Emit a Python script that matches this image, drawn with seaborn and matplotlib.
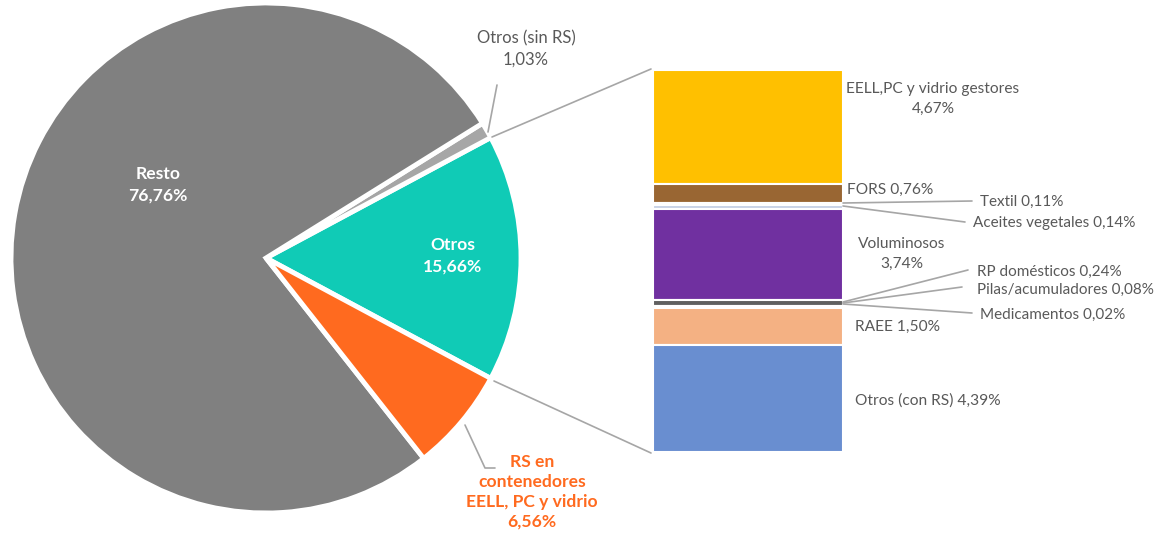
import matplotlib
matplotlib.use("Agg")
import matplotlib.pyplot as plt
import seaborn as sns
import numpy as np

sns.set_theme(style="white")
plt.rcParams['font.family'] = ['Lato', 'DejaVu Sans']

# ---- data ----
pie_labels = ["Otros", "Otros (sin RS)", "Resto", "RS en\ncontenedores\nEELL, PC y vidrio"]
pie_values = [15.66, 1.03, 76.76, 6.56]
pie_colors = ["#10CBB6", "#A6A6A6", "#808080", "#FF6A1F"]

bar_labels = ["EELL,PC y vidrio gestores", "FORS", "Textil", "Aceites vegetales",
              "Voluminosos", "RP domésticos", "Pilas/acumuladores", "Medicamentos",
              "RAEE", "Otros (con RS)"]
bar_values = [4.67, 0.76, 0.11, 0.14, 3.74, 0.24, 0.08, 0.02, 1.50, 4.39]
bar_colors = ["#FFC000", "#996633", "#A9BCDC", "#C8D3E6", "#7030A0",
              "#606060", "#7A7A7A", "#404040", "#F4B183", "#698ED0"]

W, H = 1159, 537
fig = plt.figure(figsize=(W / 100, H / 100), dpi=100)
fig.patch.set_facecolor("white")

def fr(x0, y0, x1, y1):
    # pixel box (top-left origin) -> figure fraction rect
    return [x0 / W, 1 - y1 / H, (x1 - x0) / W, (y1 - y0) / H]

# ---- pie ----
cx, cy, r = 266, 258, 255
axp = fig.add_axes(fr(cx - r, cy - r, cx + r, cy + r))
start = -pie_values[0] / sum(pie_values) * 360 / 2
axp.pie(pie_values, colors=pie_colors, startangle=start, counterclock=True,
        radius=1, wedgeprops=dict(edgecolor="white", linewidth=3.5))
axp.set_xlim(-1, 1)
axp.set_ylim(-1, 1)
axp.set_aspect("equal")
axp.axis("off")

# ---- stacked bar ----
axb = fig.add_axes(fr(653, 70, 843, 452))
bottoms = np.concatenate([[0], np.cumsum(bar_values)[:-1]])
axb.bar([0] * len(bar_values), bar_values, bottom=bottoms, width=1.0,
        color=bar_colors, edgecolor="white", linewidth=1.5)
axb.set_xlim(-0.5, 0.5)
axb.set_ylim(sum(bar_values), 0)
axb.axis("off")

# ---- overlay for texts and connectors (pixel coords) ----
axo = fig.add_axes([0, 0, 1, 1], zorder=10)
axo.set_xlim(0, W)
axo.set_ylim(H, 0)
axo.axis("off")
axo.patch.set_visible(False)

def fmt(v):
    return f"{v:.2f}".replace(".", ",") + "%"

gray = "#A6A6A6"
tcol = "#595959"
fs = 11.0
bfs = 12.6

# connectors pie -> bar
axo.plot([492, 651], [137, 69], color=gray, lw=1.2)
axo.plot([494, 651], [381, 453], color=gray, lw=1.2)

# pie labels
axo.text(158, 185, f"Resto\n{fmt(pie_values[2])}", color="white", fontsize=bfs,
         fontweight="bold", ha="center", va="center", linespacing=1.45)
axo.text(453, 256, f"Otros\n{fmt(pie_values[0])}", color="white", fontsize=bfs,
         fontweight="bold", ha="center", va="center", linespacing=1.45)
axo.text(526, 49, f"Otros (sin RS)\n{fmt(pie_values[1])}", color=tcol, fontsize=12,
         ha="center", va="center", linespacing=1.45)
axo.plot([497, 488], [85, 132], color=gray, lw=1.2)
axo.text(532, 492, f"{pie_labels[3]}\n{fmt(pie_values[3])}", color="#FF6A1F",
         fontsize=bfs, fontweight="bold", ha="center", va="center", linespacing=1.3)
axo.plot([465, 485, 495], [425, 468, 468], color=gray, lw=1.2)

# bar labels
axo.text(933, 99, f"{bar_labels[0]}\n{fmt(bar_values[0])}", color=tcol, fontsize=11.2,
         ha="center", va="center", linespacing=1.5)
axo.text(847, 190, f"{bar_labels[1]} {fmt(bar_values[1])}", color=tcol, fontsize=11.2,
         ha="left", va="center")
axo.text(980, 202, f"{bar_labels[2]} {fmt(bar_values[2])}", color=tcol, fontsize=fs,
         ha="left", va="center")
axo.plot([843, 972], [203, 201], color=gray, lw=1.2)
axo.text(973, 223, f"{bar_labels[3]} {fmt(bar_values[3])}", color=tcol, fontsize=fs,
         ha="left", va="center")
axo.plot([843, 965], [206, 222], color=gray, lw=1.2)
axo.text(902, 254, f"{bar_labels[4]}\n{fmt(bar_values[4])}", color=tcol, fontsize=11.2,
         ha="center", va="center", linespacing=1.5)
axo.text(977, 272, f"{bar_labels[5]} {fmt(bar_values[5])}", color=tcol, fontsize=fs,
         ha="left", va="center")
axo.plot([843, 968], [302, 270], color=gray, lw=1.2)
axo.text(977, 290, f"{bar_labels[6]} {fmt(bar_values[6])}", color=tcol, fontsize=fs,
         ha="left", va="center")
axo.plot([843, 962], [303, 287], color=gray, lw=1.2)
axo.text(980, 315, f"{bar_labels[7]} {fmt(bar_values[7])}", color=tcol, fontsize=fs,
         ha="left", va="center")
axo.plot([843, 972], [304, 313], color=gray, lw=1.2)
axo.text(855, 327, f"{bar_labels[8]} {fmt(bar_values[8])}", color=tcol, fontsize=11.2,
         ha="left", va="center")
axo.text(855, 401, f"{bar_labels[9]} {fmt(bar_values[9])}", color=tcol, fontsize=11.2,
         ha="left", va="center")

fig.savefig("out.png", dpi=100, facecolor="white")
